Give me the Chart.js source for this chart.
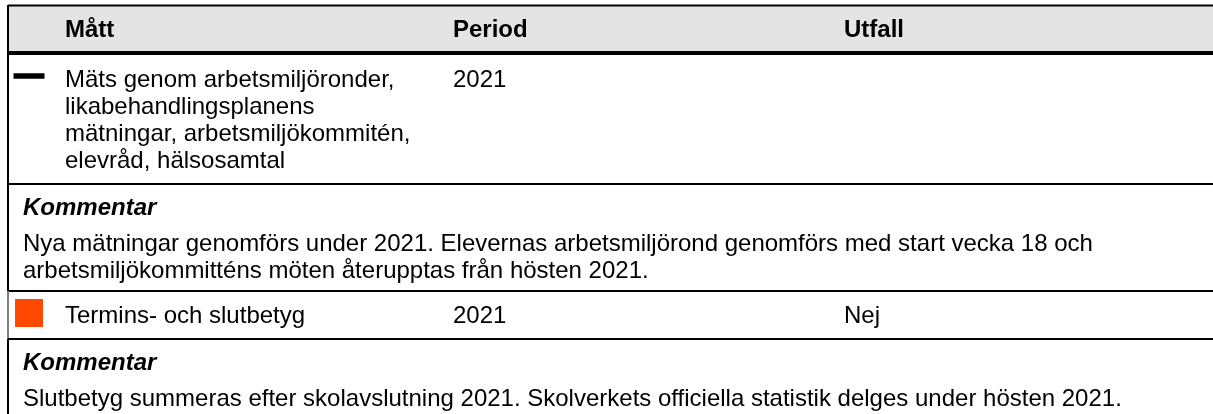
<!DOCTYPE html>
<html lang="sv">

<head>
    <meta charset="UTF-8">
    <title>Mått, period och utfall</title>
    <script src="https://cdn.jsdelivr.net/npm/chart.js"></script>
    <style>
        html, body { margin: 0; padding: 0; background: #fff; }
        #wrap { width: 1213px; height: 414px; }
    </style>
    <script>
        // tabellens innehåll
        const headers = ['Mått', 'Period', 'Utfall'];
        const measures = [
            ['Mäts genom arbetsmiljöronder,', 'likabehandlingsplanens', 'mätningar, arbetsmiljökommitén,', 'elevråd, hälsosamtal'],
            ['Termins- och slutbetyg']
        ];
        const periods = ['2021', '2021'];
        const outcomes = ['', 'Nej'];
        const statuses = ['streck', 'orange'];
        const commentTitle = 'Kommentar';
        const comments = [
            ['Nya mätningar genomförs under 2021. Elevernas arbetsmiljörond genomförs med start vecka 18 och',
             'arbetsmiljökommitténs möten återupptas från hösten 2021.'],
            ['Slutbetyg summeras efter skolavslutning 2021. Skolverkets officiella statistik delges under hösten 2021.']
        ];

        // layout (pixlar = skalvärden)
        const W = 1213, H = 414;
        const FONT = '"Liberation Sans", Arial, sans-serif';
        const LINE = 27;
        const colX = { marker: 29, measure: 65, period: 453, outcome: 844, comment: 23 };
        const tableLeft = 8, tableTop = 5, headBottom = 51, headRule = 4;

        function buildRows() {
            const rows = [];
            let y = headBottom + headRule;
            measures.forEach((lines, i) => {
                const h = 21 + lines.length * LINE;
                rows.push({ kind: 'measure', i, top: y, bottom: y + h });
                y += h;
                const ch = 53 + comments[i].length * LINE;
                rows.push({ kind: 'comment', i, top: y, bottom: y + ch });
                y += ch;
            });
            return rows;
        }
        const rows = buildRows();

        const markerStyle = {
            streck: { pointStyle: 'line', radius: 15.5, borderWidth: 5.5, color: '#000', dy: 21 },
            orange: { pointStyle: 'rect', radius: 19.8, borderWidth: 0, color: '#ff4800', dy: 22 }
        };

        const tablePlugin = {
            id: 'tablePlugin',
            beforeDatasetsDraw(chart) {
                const { ctx, scales } = chart;
                const px = v => scales.x.getPixelForValue(v);
                const py = v => scales.y.getPixelForValue(v);
                const right = px(W), left = px(tableLeft);
                ctx.save();

                // rubrikrad
                ctx.fillStyle = '#e4e4e4';
                ctx.fillRect(left, py(tableTop), right - left, py(headBottom) - py(tableTop));
                ctx.fillStyle = '#000';
                ctx.font = 'bold 24px ' + FONT;
                ctx.textBaseline = 'alphabetic';
                const headY = py(tableTop + 32);
                ctx.fillText(headers[0], px(colX.measure), headY);
                ctx.fillText(headers[1], px(colX.period), headY);
                ctx.fillText(headers[2], px(colX.outcome), headY);

                // text i raderna
                rows.forEach(r => {
                    if (r.kind === 'measure') {
                        ctx.font = '24px ' + FONT;
                        measures[r.i].forEach((t, k) => {
                            ctx.fillText(t, px(colX.measure), py(r.top + 32 + k * LINE));
                        });
                        ctx.fillText(periods[r.i], px(colX.period), py(r.top + 32));
                        ctx.fillText(outcomes[r.i], px(colX.outcome), py(r.top + 32));
                    } else {
                        ctx.font = 'italic bold 24px ' + FONT;
                        ctx.fillText(commentTitle, px(colX.comment), py(r.top + 31));
                        ctx.font = '24px ' + FONT;
                        comments[r.i].forEach((t, k) => {
                            ctx.fillText(t, px(colX.comment), py(r.top + 67 + k * LINE));
                        });
                    }
                });

                // linjer
                ctx.fillStyle = '#000';
                ctx.fillRect(left, py(tableTop) - 0.5, right - left, 2);
                ctx.fillRect(left, py(headBottom), right - left, headRule);
                ctx.fillRect(left - 1, py(tableTop), 2, py(headBottom + headRule) - py(tableTop));
                rows.forEach((r, k) => {
                    ctx.fillStyle = '#000';
                    if (k > 0) ctx.fillRect(left, py(r.top) - 1, right - left, 2);
                    ctx.fillStyle = r.kind === 'measure' && r.i === 1 ? '#808080' : '#000';
                    ctx.fillRect(left - 1, py(r.top), 2, py(Math.min(r.bottom, H)) - py(r.top));
                });
                ctx.restore();
            }
        };

        function createChart() {
            const datasets = statuses.map((s, i) => {
                const row = rows.find(r => r.kind === 'measure' && r.i === i);
                const st = markerStyle[s];
                return {
                    label: s,
                    data: [{ x: colX.marker, y: row.top + st.dy }],
                    pointStyle: st.pointStyle,
                    pointRadius: st.radius,
                    pointHoverRadius: st.radius,
                    pointBorderWidth: st.borderWidth,
                    pointBackgroundColor: st.color,
                    pointBorderColor: st.color,
                    showLine: false
                };
            });

            const ctx = document.getElementById('myChart').getContext('2d');
            new Chart(ctx, {
                type: 'scatter',
                data: { datasets },
                options: {
                    responsive: false,
                    animation: false,
                    events: [],
                    layout: { padding: 0, autoPadding: false },
                    plugins: { legend: { display: false }, tooltip: { enabled: false } },
                    scales: {
                        x: { type: 'linear', min: 0, max: W, display: false },
                        y: { type: 'linear', min: 0, max: H, reverse: true, display: false }
                    }
                },
                plugins: [tablePlugin]
            });
        }

        document.addEventListener('DOMContentLoaded', createChart);
    </script>
</head>

<body>
    <div id="wrap"><canvas id="myChart" width="1213" height="414"></canvas></div>
</body>

</html>
